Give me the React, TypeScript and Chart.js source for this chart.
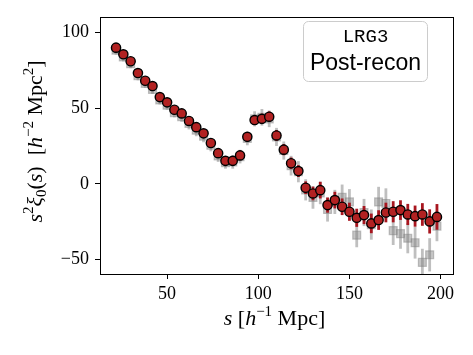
import React, { useEffect, useRef } from "react";
import { Chart, registerables } from "chart.js";

Chart.register(...registerables);

// Separation bin centres s [h^-1 Mpc]
const separations = [
  22, 26, 30, 34, 38, 42, 46, 50, 54, 58, 62, 66, 70, 74, 78, 82, 86, 90, 94, 98,
  102, 106, 110, 114, 118, 122, 126, 130, 134, 138, 142, 146, 150, 154, 158, 162,
  166, 170, 174, 178, 182, 186, 190, 194, 198,
];

// Post-recon (red) s^2 xi_0
const postRecon = [
  90.1, 85.7, 81.1, 73.3, 68.2, 64.7, 57.4, 53.9, 49.0, 46.6, 41.6, 37.5, 33.4, 27.0,
  20.3, 15.2, 15.2, 18.8, 31.1, 42.2, 43.0, 44.4, 32.0, 22.6, 13.6, 8.4, -2.6, -6.4,
  -4.2, -14.1, -10.8, -15.2, -18.5, -22.5, -20.7, -26.2, -24.0, -19.0, -18.5, -17.4,
  -20.3, -21.4, -20.3, -24.9, -21.9,
];
const postReconErr = [
  1.5, 1.5, 1.6, 1.7, 1.8, 1.9, 2.0, 2.1, 2.2, 2.3, 2.4, 2.5, 2.6, 2.7, 2.8, 2.9, 3.0,
  3.1, 3.2, 3.3, 3.4, 3.5, 3.6, 3.7, 3.8, 3.9, 4.2, 4.5, 5.5, 5.0, 5.5, 5.5, 6.0, 6.0,
  6.0, 6.5, 6.5, 6.5, 7.0, 6.5, 7.0, 7.0, 7.5, 8.0, 8.5,
];

// Comparison (grey) measurements
const comparison = [
  88.5, 84.0, 79.5, 71.5, 66.5, 62.5, 55.5, 52.0, 47.0, 44.5, 40.0, 35.5, 31.5, 25.5,
  18.5, 14.0, 14.5, 18.0, 30.0, 43.0, 44.0, 43.0, 31.0, 22.0, 12.0, 8.0, -4.0, -9.0,
  -6.0, -17.0, -12.0, -9.0, -12.0, -34.0, -19.0, -27.0, -12.0, -13.0, -31.0, -33.0,
  -36.0, -39.0, -52.0, -47.0, -28.0,
];
const comparisonErr = [
  3.0, 3.0, 3.0, 3.0, 3.0, 3.0, 3.0, 3.0, 3.0, 3.5, 4.0, 4.0, 4.0, 4.0, 4.0, 4.0, 4.5,
  4.5, 4.5, 5.0, 5.5, 5.5, 6.0, 6.0, 6.5, 7.0, 7.0, 7.5, 7.5, 8.0, 8.0, 8.5, 8.5, 8.0,
  9.0, 10.0, 10.0, 10.0, 9.5, 10.0, 10.0, 10.5, 9.0, 11.0, 10.0,
];

const xTicks = [50, 100, 150, 200];
const yTicks = [-50, 0, 50, 100];

const legendTitle = "LRG3";
const legendLabel = "Post-recon";

type Seg = { t: string; it?: boolean; sup?: boolean; sub?: boolean };

const xTitle: Seg[] = [
  { t: "s", it: true },
  { t: " [" },
  { t: "h", it: true },
  { t: "\u22121", sup: true },
  { t: " Mpc]" },
];
const yTitle: Seg[] = [
  { t: "s", it: true },
  { t: "2", sup: true },
  { t: "\u03BE", it: true },
  { t: "0", sub: true },
  { t: "(" },
  { t: "s", it: true },
  { t: ")  [" },
  { t: "h", it: true },
  { t: "\u22122", sup: true },
  { t: " Mpc" },
  { t: "2", sup: true },
  { t: "]" },
];

const SERIF = "'Liberation Serif', 'DejaVu Serif', serif";

function drawRich(ctx: CanvasRenderingContext2D, segs: Seg[], size: number) {
  const fontFor = (s: Seg) =>
    `${s.it ? "italic " : ""}${s.sup || s.sub ? Math.round(size * 0.7) : size}px ${SERIF}`;
  const widths = segs.map((s) => {
    ctx.font = fontFor(s);
    return ctx.measureText(s.t).width;
  });
  const total = widths.reduce((a, b) => a + b, 0);
  let x = -total / 2;
  ctx.textAlign = "left";
  ctx.textBaseline = "alphabetic";
  ctx.fillStyle = "#000";
  segs.forEach((s, i) => {
    ctx.font = fontFor(s);
    const dy = s.sup ? -size * 0.4 : s.sub ? size * 0.2 : 0;
    ctx.fillText(s.t, x, dy);
    x += widths[i];
  });
}

const errorBarPlugin = {
  id: "errorBars",
  beforeDatasetDraw(chart: any, args: any) {
    const ds = chart.data.datasets[args.index];
    const errs: number[] | undefined = ds.errors;
    if (!errs) return;
    const xs = chart.scales.x;
    const ys = chart.scales.y;
    const ctx: CanvasRenderingContext2D = chart.ctx;
    const a = chart.chartArea;
    ctx.save();
    ctx.beginPath();
    ctx.rect(a.left, a.top, a.right - a.left, a.bottom - a.top);
    ctx.clip();
    ctx.strokeStyle = ds.errorColor;
    ctx.lineWidth = ds.errorWidth;
    ds.data.forEach((p: { x: number; y: number }, i: number) => {
      const px = xs.getPixelForValue(p.x);
      ctx.beginPath();
      ctx.moveTo(px, ys.getPixelForValue(p.y - errs[i]));
      ctx.lineTo(px, ys.getPixelForValue(p.y + errs[i]));
      ctx.stroke();
    });
    ctx.restore();
  },
};

const decorPlugin = {
  id: "decor",
  afterDraw(chart: any) {
    const ctx: CanvasRenderingContext2D = chart.ctx;
    const a = chart.chartArea;
    ctx.save();
    // frame
    ctx.strokeStyle = "#000";
    ctx.lineWidth = 1;
    ctx.strokeRect(Math.round(a.left) + 0.5, Math.round(a.top) + 0.5, Math.round(a.right - a.left), Math.round(a.bottom - a.top));

    // legend box
    const bx = a.right - 149.5;
    const by = a.top + 4.5;
    const bw = 124;
    const bh = 60;
    ctx.beginPath();
    (ctx as any).roundRect(bx, by, bw, bh, 5);
    ctx.fillStyle = "rgba(255,255,255,0.85)";
    ctx.fill();
    ctx.strokeStyle = "#cccccc";
    ctx.lineWidth = 1;
    ctx.stroke();
    ctx.fillStyle = "#000";
    ctx.textAlign = "center";
    ctx.textBaseline = "alphabetic";
    ctx.font = "19px 'Liberation Mono', 'DejaVu Sans Mono', monospace";
    ctx.fillText(legendTitle, bx + bw / 2, by + 20.5);
    ctx.font = "23px 'Liberation Sans', Arial, sans-serif";
    ctx.fillText(legendLabel, bx + bw / 2, by + 48);

    // axis titles
    ctx.save();
    ctx.translate((a.left + a.right) / 2 - 2, 325);
    drawRich(ctx, xTitle, 22);
    ctx.restore();

    ctx.save();
    ctx.translate(42, 141.5);
    ctx.rotate(-Math.PI / 2);
    drawRich(ctx, yTitle, 22);
    ctx.restore();

    ctx.restore();
  },
};

const fmt = (v: number | string) => {
  const n = Number(v);
  return n < 0 ? "\u2212" + Math.abs(n) : String(n);
};

export default function App() {
  const ref = useRef<HTMLCanvasElement | null>(null);

  useEffect(() => {
    if (!ref.current) return;
    const tickFont = { family: SERIF, size: 18 };
    const chart = new Chart(ref.current, {
      type: "scatter",
      data: {
        datasets: [
          {
            label: legendLabel,
            data: separations.map((s, i) => ({ x: s, y: postRecon[i] })),
            pointStyle: "circle",
            pointRadius: 4.6,
            pointHoverRadius: 4.6,
            backgroundColor: "#b22222",
            borderColor: "#000000",
            borderWidth: 1.4,
            errors: postReconErr,
            errorColor: "#a8161f",
            errorWidth: 2.8,
          } as any,
          {
            label: "comparison",
            data: separations.map((s, i) => ({ x: s, y: comparison[i] })),
            pointStyle: "rect",
            pointRadius: 5.6,
            pointHoverRadius: 5.6,
            backgroundColor: "rgba(128,128,128,0.45)",
            borderColor: "rgba(128,128,128,0.45)",
            borderWidth: 1.2,
            errors: comparisonErr,
            errorColor: "rgba(128,128,128,0.5)",
            errorWidth: 2.8,
          } as any,
        ],
      },
      options: {
        animation: false,
        responsive: false,
        events: [],
        layout: { padding: { top: 17, right: 20, left: 0, bottom: 0 } },
        plugins: {
          legend: { display: false },
          tooltip: { enabled: false },
        },
        scales: {
          x: {
            type: "linear",
            min: 13.2,
            max: 206.8,
            afterBuildTicks: (s: any) => {
              s.ticks = xTicks.map((v) => ({ value: v }));
            },
            afterFit: (s: any) => {
              s.height = 81;
            },
            ticks: { font: tickFont, color: "#000", padding: 4, maxRotation: 0, autoSkip: false, callback: fmt },
            grid: { drawOnChartArea: false, drawTicks: true, tickLength: 5, tickColor: "#000", tickWidth: 1 },
            border: { display: true, color: "#000", width: 1 },
          },
          y: {
            type: "linear",
            min: -59.7,
            max: 110.4,
            afterBuildTicks: (s: any) => {
              s.ticks = yTicks.map((v) => ({ value: v }));
            },
            afterFit: (s: any) => {
              s.width = 100;
            },
            ticks: { font: tickFont, color: "#000", padding: 6, autoSkip: false, callback: fmt },
            grid: { drawOnChartArea: false, drawTicks: true, tickLength: 5, tickColor: "#000", tickWidth: 1 },
            border: { display: true, color: "#000", width: 1 },
          },
        },
      },
      plugins: [errorBarPlugin, decorPlugin],
    });
    return () => chart.destroy();
  }, []);

  return (
    <div style={{ position: "absolute", left: 0, top: 0, width: 473, height: 355, background: "#fff" }}>
      <canvas ref={ref} width={473} height={355} style={{ display: "block" }} />
    </div>
  );
}
